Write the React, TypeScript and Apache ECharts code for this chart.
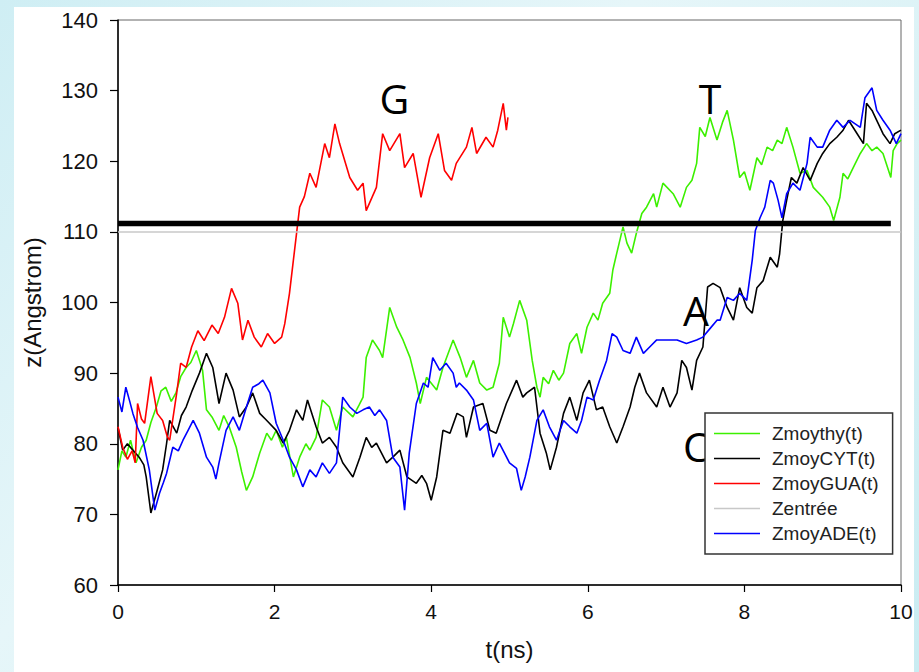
import React, { useEffect, useRef } from "react";
import * as echarts from "echarts";

// time (ns), z (Angstrom)
const thyData: number[][] = [
  [0, 76.3], [0.05, 79], [0.1, 78.1], [0.16, 80.5], [0.23, 77.3], [0.3, 79.5], [0.36, 80.5], [0.42, 83], [0.49, 85.2], [0.55, 87.5],
  [0.61, 88], [0.68, 86], [0.74, 87.2], [0.8, 89.5], [0.87, 90.8], [0.93, 91.5], [1.0, 93.2], [1.08, 90.4], [1.13, 84.8], [1.2, 83.8],
  [1.29, 81.9], [1.35, 84], [1.42, 82.4], [1.51, 79.5], [1.58, 76], [1.64, 73.4], [1.72, 75.3], [1.81, 78.7], [1.9, 81.5], [1.96, 80.5],
  [2.02, 81.9], [2.1, 79.5], [2.15, 80.9], [2.24, 75.3], [2.32, 78.1], [2.4, 80], [2.45, 79.1], [2.53, 80.9], [2.61, 86.2], [2.7, 85.2],
  [2.79, 81.9], [2.87, 85.2], [3.0, 83.8], [3.08, 85.5], [3.13, 86.6], [3.17, 92.2], [3.25, 94.7], [3.34, 93.2], [3.38, 92.2], [3.47, 99.3],
  [3.56, 96.5], [3.64, 94.7], [3.73, 92.2], [3.81, 88.6], [3.86, 85.7], [3.94, 89.4], [4.07, 87.6], [4.15, 90.8], [4.28, 94.7], [4.37, 92.2],
  [4.45, 89.4], [4.54, 91.8], [4.62, 88.6], [4.71, 87.6], [4.79, 88], [4.87, 91.4], [4.92, 97.9], [5.0, 95.1], [5.05, 97], [5.13, 100.3],
  [5.22, 97.5], [5.29, 91.8], [5.35, 88], [5.39, 86.6], [5.43, 89.4], [5.5, 88.5], [5.56, 90.4], [5.63, 89], [5.69, 90], [5.77, 94.2],
  [5.86, 95.6], [5.92, 92.8], [5.99, 96.5], [6.07, 98.5], [6.13, 97.5], [6.19, 99.9], [6.28, 101.3], [6.32, 104.6], [6.37, 107], [6.45, 110.7],
  [6.5, 108.4], [6.56, 107], [6.62, 109.8], [6.69, 112.6], [6.75, 113.5], [6.84, 115.4], [6.88, 113.5], [6.96, 116.9], [7.09, 115.4], [7.18, 113.5],
  [7.26, 116.3], [7.33, 117.3], [7.39, 119.7], [7.43, 124.8], [7.5, 123.5], [7.56, 126.2], [7.65, 123], [7.72, 125.5], [7.78, 127.2], [7.86, 123],
  [7.94, 117.7], [8.0, 118.5], [8.07, 115.9], [8.16, 120.5], [8.22, 119.5], [8.29, 122], [8.36, 121.5], [8.42, 123], [8.48, 122.5], [8.54, 124.8],
  [8.62, 122], [8.71, 118.3], [8.8, 118.7], [8.88, 116.3], [9.0, 114.9], [9.09, 113.5], [9.14, 111.6], [9.22, 114.9], [9.26, 118.3], [9.32, 117.5],
  [9.39, 119.1], [9.48, 121.1], [9.56, 122.5], [9.63, 121.5], [9.69, 122], [9.77, 121.1], [9.87, 117.7], [9.9, 121.5], [9.95, 122.5], [10, 123],
];

const cytData: number[][] = [
  [0, 82.3], [0.06, 79.1], [0.12, 80], [0.19, 79.1], [0.27, 78.1], [0.33, 77], [0.36, 75.3], [0.42, 70.2], [0.49, 73], [0.57, 76.3],
  [0.62, 80], [0.66, 83.3], [0.75, 81.5], [0.81, 84], [0.87, 85.2], [0.95, 87.6], [1.04, 90], [1.13, 92.8], [1.21, 90.8], [1.29, 85.7],
  [1.38, 90], [1.47, 87.6], [1.55, 83.8], [1.64, 85.2], [1.72, 87.2], [1.81, 84.3], [1.9, 83.3], [2.02, 81.9], [2.11, 80.1], [2.19, 81.9],
  [2.28, 84.8], [2.36, 83.3], [2.42, 86.2], [2.53, 82.4], [2.61, 80.1], [2.7, 80.9], [2.79, 79.5], [2.87, 77.3], [3.0, 75.3], [3.09, 78.1],
  [3.17, 80.9], [3.24, 79.5], [3.3, 80.1], [3.43, 77.3], [3.51, 78.1], [3.6, 79.1], [3.69, 75.3], [3.81, 74.4], [3.88, 75.5], [3.94, 74.4],
  [4.0, 72], [4.07, 75.3], [4.15, 81.9], [4.24, 81.5], [4.33, 84.3], [4.41, 83.8], [4.45, 80.9], [4.54, 85.2], [4.66, 85.7], [4.75, 81.9],
  [4.83, 81.5], [4.96, 85.7], [5.09, 89], [5.17, 86.6], [5.22, 87.2], [5.32, 88], [5.39, 81.5], [5.47, 78.7], [5.52, 76.3], [5.6, 79.5],
  [5.69, 84.3], [5.77, 86.6], [5.86, 83.3], [5.94, 87.2], [6.02, 89], [6.11, 84.8], [6.19, 85.2], [6.28, 82.4], [6.37, 80.1], [6.45, 82.4],
  [6.54, 85.2], [6.6, 88], [6.66, 90], [6.75, 87.2], [6.88, 85.2], [6.96, 88], [7.05, 85.2], [7.14, 87.2], [7.2, 91.8], [7.26, 90.8],
  [7.33, 87.6], [7.39, 91.8], [7.47, 93.7], [7.53, 102.2], [7.6, 102.7], [7.69, 102.1], [7.78, 99.3], [7.86, 97.5], [7.94, 102.1], [8.03, 99.3],
  [8.1, 98.5], [8.16, 102.1], [8.24, 103.1], [8.33, 106.4], [8.42, 105], [8.45, 106.9], [8.49, 111.6], [8.54, 114.5], [8.6, 117.7], [8.67, 116.9],
  [8.75, 119.1], [8.84, 117.3], [8.93, 119.7], [9.0, 121.1], [9.09, 122.5], [9.18, 123.4], [9.26, 124.4], [9.33, 125.8], [9.44, 123.9], [9.52, 122.5],
  [9.56, 128.2], [9.63, 127.2], [9.69, 125.8], [9.77, 123.9], [9.86, 122.5], [9.92, 123.9], [10, 124.4],
];

const guaData: number[][] = [
  [0, 82.4], [0.06, 79.5], [0.12, 77.8], [0.18, 79.0], [0.22, 77.3], [0.25, 85.7], [0.3, 83.5], [0.34, 82.9], [0.42, 89.5], [0.5, 84.3],
  [0.57, 83.3], [0.63, 81], [0.66, 80.5], [0.75, 87.2], [0.8, 91.4], [0.87, 90.8], [0.94, 93.7], [1.02, 96], [1.1, 94.6], [1.2, 96.8],
  [1.28, 95.6], [1.36, 97.9], [1.45, 102], [1.53, 99.9], [1.59, 94.7], [1.66, 97.5], [1.74, 95.1], [1.83, 93.7], [1.91, 95.6], [2.0, 94.2],
  [2.09, 95.1], [2.13, 97], [2.19, 101.3], [2.24, 106], [2.32, 113.5], [2.38, 115], [2.45, 118.3], [2.53, 116.3], [2.64, 122.5], [2.7, 120.5],
  [2.77, 125.3], [2.83, 122.5], [2.96, 117.7], [3.06, 115.9], [3.13, 116.9], [3.17, 113], [3.3, 116.3], [3.38, 123.9], [3.47, 121.5], [3.6, 123.9],
  [3.66, 119.1], [3.77, 121.1], [3.87, 114.9], [3.98, 120.5], [4.09, 123.9], [4.17, 118.7], [4.26, 117.3], [4.32, 119.7], [4.45, 122], [4.52, 124.8],
  [4.58, 121.1], [4.7, 123.4], [4.79, 122], [4.85, 124.4], [4.92, 128.2], [4.96, 124.4], [4.98, 126.2],
];

const adeData: number[][] = [
  [0, 86.6], [0.05, 84.5], [0.1, 88], [0.15, 86], [0.19, 84.3], [0.25, 82.3], [0.32, 80.5], [0.4, 76.3], [0.47, 70.6], [0.53, 73],
  [0.58, 74.5], [0.62, 75.8], [0.7, 79.5], [0.77, 79], [0.83, 80.5], [0.9, 82], [0.96, 83.3], [1.04, 81.5], [1.13, 78.1], [1.21, 76.7],
  [1.25, 75], [1.29, 77.3], [1.38, 81.9], [1.47, 83.8], [1.55, 81.9], [1.64, 85.2], [1.72, 88], [1.8, 88.5], [1.85, 89], [1.94, 87.2],
  [2.02, 82.9], [2.11, 80.5], [2.19, 78.1], [2.28, 76.3], [2.36, 73.9], [2.45, 76.3], [2.53, 75.3], [2.61, 77.3], [2.7, 75.8], [2.79, 77.3],
  [2.87, 86.6], [2.96, 85.2], [3.05, 84.3], [3.13, 84.8], [3.21, 85.2], [3.28, 84], [3.34, 84.8], [3.43, 83.3], [3.51, 78.1], [3.6, 76.7],
  [3.66, 70.6], [3.72, 78.7], [3.81, 85.7], [3.9, 88.6], [3.96, 88], [4.02, 92.2], [4.11, 90.4], [4.19, 91.4], [4.28, 90], [4.32, 88],
  [4.36, 88.6], [4.45, 87.6], [4.54, 86.2], [4.62, 81.9], [4.71, 82.9], [4.79, 78.1], [4.87, 80.1], [5.0, 77.3], [5.09, 76.5], [5.15, 73.4],
  [5.2, 75.3], [5.26, 78.1], [5.35, 83.3], [5.43, 84.8], [5.51, 82.4], [5.6, 80.5], [5.69, 83.3], [5.77, 82.4], [5.86, 81.5], [5.92, 83.3],
  [5.99, 86.6], [6.07, 86.2], [6.15, 89], [6.24, 91.8], [6.31, 95.6], [6.37, 95.1], [6.45, 93.2], [6.54, 92.8], [6.62, 95.1], [6.71, 92.8],
  [6.79, 93.7], [6.88, 94.7], [7.01, 94.7], [7.14, 94.7], [7.26, 94.2], [7.39, 94.7], [7.47, 95.1], [7.56, 96.3], [7.65, 97.5], [7.69, 97.5],
  [7.78, 100.7], [7.86, 100.3], [7.94, 101.3], [8.03, 100.3], [8.1, 106], [8.14, 110.2], [8.2, 112], [8.26, 113.5], [8.33, 117.3], [8.37, 116.9],
  [8.43, 114.5], [8.48, 112], [8.54, 115.4], [8.62, 116.9], [8.71, 115.9], [8.8, 119.7], [8.84, 123.4], [8.93, 122], [9.0, 122], [9.09, 124.4],
  [9.18, 125.8], [9.26, 124.8], [9.35, 125.8], [9.48, 124.8], [9.54, 129], [9.63, 130.4], [9.69, 127.2], [9.77, 125.8], [9.86, 124.4], [9.94, 122.5],
  [10, 123.9],
];

const entreeData: number[][] = [[0, 110], [10, 110]];
const seuilData: number[][] = [[0, 111.2], [9.87, 111.2]];

const annotNames = ["G", "T", "A", "C"];
const annotT = [3.53, 7.56, 7.38, 7.38];
const annotZ = [128.9, 129.0, 99.0, 79.7];

const legendNames = ["Zmoythy(t)", "ZmoyCYT(t)", "ZmoyGUA(t)", "Zentrée", "ZmoyADE(t)"];
const colors = ["#3cf000", "#000000", "#ff0000", "#c8c8c8", "#0000ff"];

const xTicks = { min: 0, max: 10, interval: 2 };
const yTicks = { min: 60, max: 140, interval: 10 };

const FONT = "'Liberation Sans', Arial, sans-serif";

export default function App() {
  const ref = useRef<HTMLDivElement>(null);
  useEffect(() => {
    if (!ref.current) return;
    const chart = echarts.init(ref.current, null, { renderer: "svg" });
    const lineSeries = (name: string, data: number[][], color: string, width: number) => ({
      name,
      type: "line",
      data,
      symbol: "none",
      showSymbol: false,
      lineStyle: { color, width },
      itemStyle: { color },
      emphasis: { disabled: true },
    });
    chart.setOption({
      animation: false,
      backgroundColor: "transparent",
      grid: {
        left: 118,
        top: 20,
        width: 783,
        height: 565,
        show: true,
        borderColor: "#666",
        borderWidth: 1,
        backgroundColor: "#fff",
      },
      xAxis: {
        type: "value",
        ...xTicks,
        name: "t(ns)",
        nameLocation: "middle",
        nameGap: 52,
        nameTextStyle: { fontSize: 24, fontFamily: FONT, color: "#111" },
        axisLine: { show: true, lineStyle: { color: "#000", width: 1.5 } },
        axisTick: { show: true, inside: false, length: 7, lineStyle: { color: "#000", width: 1.2 } },
        axisLabel: { fontSize: 21, fontFamily: FONT, color: "#111", margin: 16 },
        splitLine: { show: false },
      },
      yAxis: {
        type: "value",
        ...yTicks,
        name: "z(Angstrom)",
        nameLocation: "middle",
        nameGap: 74,
        nameTextStyle: { fontSize: 24, fontFamily: FONT, color: "#111" },
        axisLine: { show: true, lineStyle: { color: "#000", width: 1.5 } },
        axisTick: { show: true, inside: false, length: 8, lineStyle: { color: "#000", width: 1.2 } },
        axisLabel: { fontSize: 22, fontFamily: FONT, color: "#111", margin: 20 },
        splitLine: { show: false },
      },
      legend: {
        data: legendNames,
        orient: "vertical",
        left: 705,
        top: 413,
        icon: "rect",
        itemWidth: 46,
        itemHeight: 1.6,
        itemGap: 6,
        padding: [11, 14, 11, 9],
        backgroundColor: "#fff",
        borderColor: "#333",
        borderWidth: 1.5,
        selectedMode: false,
        z: 10,
        textStyle: { fontSize: 19, fontFamily: FONT, color: "#222", lineHeight: 19, padding: [0, 0, 0, 7] },
      },
      series: [
        {
          name: "annotations",
          type: "scatter",
          symbolSize: 0,
          data: annotNames.map((n, i) => ({ name: n, value: [annotT[i], annotZ[i]] })),
          label: {
            show: true,
            position: "inside",
            formatter: "{b}",
            fontSize: 41,
            fontFamily: "'Open Sans', 'DejaVu Sans', sans-serif",
            color: "#000",
            opacity: 1,
            textBorderWidth: 0,
          },
          z: 1,
          emphasis: { disabled: true },
        },
        lineSeries(legendNames[0], thyData, colors[0], 1.6),
        lineSeries(legendNames[1], cytData, colors[1], 1.6),
        lineSeries(legendNames[2], guaData, colors[2], 1.6),
        lineSeries(legendNames[3], entreeData, colors[3], 1.5),
        lineSeries(legendNames[4], adeData, colors[4], 1.6),
        {
          name: "seuil",
          type: "line",
          data: seuilData,
          symbol: "none",
          lineStyle: { color: "#000", width: 5.5 },
          z: 5,
          emphasis: { disabled: true },
        },
      ],
    });
    return () => chart.dispose();
  }, []);
  return (
    <div
      style={{
        position: "fixed",
        left: 0,
        top: 0,
        width: 919,
        height: 672,
        background: "linear-gradient(135deg, #cfeef4 0%, #e6f6f9 40%, #d8f1f5 70%, #c9ecf2 100%)",
      }}
    >
      <div style={{ position: "absolute", left: 14, top: 7, width: 900, height: 665, background: "#fff" }} />
      <div ref={ref} style={{ position: "absolute", left: 0, top: 0, width: 919, height: 672 }} />
    </div>
  );
}
